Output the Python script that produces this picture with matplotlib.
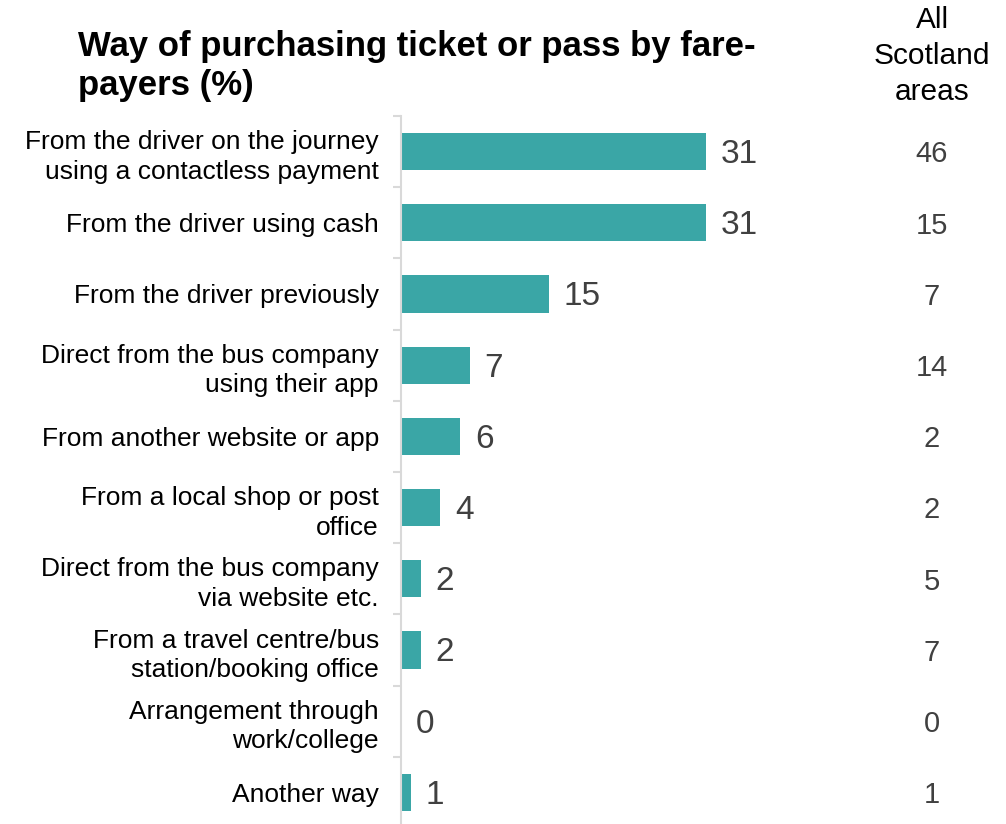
import matplotlib.pyplot as plt
import numpy as np

plt.rcParams['font.family'] = ['Liberation Sans', 'DejaVu Sans']

categories = [
    'From the driver on the journey\nusing a contactless payment',
    'From the driver using cash',
    'From the driver previously',
    'Direct from the bus company\nusing their app',
    'From another website or app',
    'From a local shop or post\noffice',
    'Direct from the bus company\nvia website etc.',
    'From a travel centre/bus\nstation/booking office',
    'Arrangement through\nwork/college',
    'Another way',
]
area_values = [31, 31, 15, 7, 6, 4, 2, 2, 0, 1]
scotland_values = [46, 15, 7, 14, 2, 2, 5, 7, 0, 1]

bar_color = '#3AA6A6'
text_grey = '#404040'

fig = plt.figure(figsize=(10.06, 8.24), dpi=100)
ax = fig.add_axes([401 / 1006, -4 / 824, 460 / 1006, 712 / 824])

y = np.arange(len(categories))
ax.barh(y, area_values, height=0.52, color=bar_color)
ax.set_ylim(len(categories) - 0.5, -0.5)
ax.set_xlim(0, 460 / 9.84)

for yi, v in zip(y, area_values):
    ax.text(v + 1.5, yi + 0.04, str(v), va='center', ha='left', fontsize=24, color=text_grey)

# category labels
ax.set_yticks(y)
ax.set_yticklabels(categories, fontsize=19, color='black', linespacing=1.3)
ax.tick_params(axis='y', length=0, pad=16)
ax.set_yticks(np.arange(len(categories) + 1) - 0.5, minor=True)
ax.tick_params(axis='y', which='minor', length=6, width=1.5, color='#d9d9d9')
ax.set_xticks([])

for s in ['top', 'right', 'bottom']:
    ax.spines[s].set_visible(False)
ax.spines['left'].set_color('#d9d9d9')
ax.spines['left'].set_linewidth(1.5)

# comparison column for all of Scotland
for yi, v in zip(y, scotland_values):
    fig.text(932 / 1006, ax.transData.transform((0, yi + 0.04))[1] / 824, str(v),
             ha='center', va='center', fontsize=21, color=text_grey)
fig.text(932 / 1006, 1 - 56 / 824, 'All\nScotland\nareas', ha='center', va='center',
         fontsize=21.5, color='black', linespacing=1.35)

fig.text(78 / 1006, 1 - 66 / 824, 'Way of purchasing ticket or pass by fare-\npayers (%)',
         ha='left', va='center', fontsize=25, fontweight='bold', color='black',
         linespacing=1.2)

fig.savefig('out.png', dpi=100)
